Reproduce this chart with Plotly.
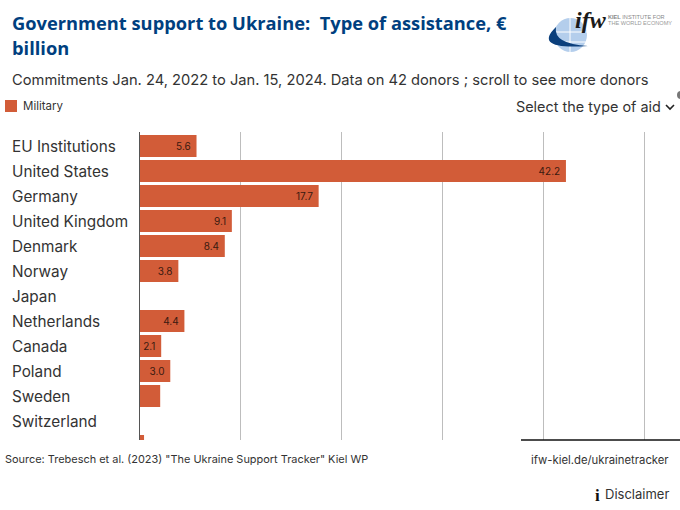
import plotly.graph_objects as go

# donors in tracker order, the 13th row is cut off by the bottom of the plot
donors = ['EU Institutions', 'United States', 'Germany', 'United Kingdom', 'Denmark', 'Norway', 'Japan',
          'Netherlands', 'Canada', 'Poland', 'Sweden', 'Switzerland', ' ']
military = [5.6, 42.2, 17.7, 9.1, 8.4, 3.8, 0, 4.4, 2.1, 3.0, 2.0, 0, 0.4]
bar_labels = ['5.6', '42.2', '17.7', '9.1', '8.4', '3.8', '', '4.4', '2.1', '3.0', '', '', '']
grid_ticks = [0, 10, 20, 30, 40, 50]

W, H = 680, 510
L, T, B = 140, 132, 70
FONT = 'Inter'
TXT = '#333333'
PAD = 2  # annotations sit about 2px inside their anchor


def px(x):
    return (x - L) / (W - L)


def py(y):
    return (H - B - y) / (H - B - T)


fig = go.Figure()
fig.add_trace(go.Bar(y=donors, x=military, orientation='h', width=0.88, name='Military',
                     marker=dict(color='#D25C38', line=dict(width=0)),
                     text=bar_labels, texttemplate='%{text}\u00a0', textposition='inside', insidetextanchor='end',
                     textangle=0, constraintext='none',
                     textfont=dict(family=FONT, size=10, color='#3a1a10'),
                     hoverinfo='x+y'))

anns = []


def txt(x, y, s, size, color=TXT, anchor='left', family=FONT):
    x = x - PAD if anchor == 'left' else x + PAD if anchor == 'right' else x
    anns.append(dict(text=s, x=px(x), y=py(y), xref='paper', yref='paper', xanchor=anchor, yanchor='middle',
                     showarrow=False, align=anchor, font=dict(family=family, size=size, color=color)))


# donor names are left aligned so they can't be normal tick labels
for d in donors:
    anns.append(dict(text=d, x=px(12 - PAD), y=d, xref='paper', yref='y', xanchor='left', yanchor='middle',
                     showarrow=False, font=dict(family=FONT, size=15.3, color=TXT)))

txt(12, 22.5, '<b>Government support to Ukraine:  Type of assistance, €</b>', 18.3, '#003F7F', family='Open Sans')
txt(12, 47.5, '<b>billion</b>', 18.3, '#003F7F', family='Open Sans')
txt(12, 80, 'Commitments Jan. 24, 2022 to Jan. 15, 2024. Data on 42 donors ; scroll to see more donors', 14.7)
txt(23, 106, 'Military', 11.5)
txt(516, 107, 'Select the type of aid', 14.4)
txt(5, 459, 'Source: Trebesch et al. (2023) "The Ukraine Support Tracker" Kiel WP', 10.95)
txt(669, 460, 'ifw-kiel.de/ukrainetracker', 11.3, anchor='right')
txt(669, 494, 'Disclaimer', 13, anchor='right')
txt(597, 495, '<b>i</b>', 17, '#111111', anchor='center', family='Liberation Serif')
# logo text
txt(575, 20, '<b><i>ifw</i></b>', 24, '#1a1a1a', family='Liberation Serif')
txt(608, 17, '<b>KIEL</b> INSTITUTE FOR', 5.6, '#888888', family='Liberation Sans')
txt(608, 23, 'THE WORLD ECONOMY', 5.6, '#999999', family='Liberation Sans')


def globe_line(x0, y0, x1, y1):
    return dict(type='line', xref='paper', yref='paper', x0=px(x0), x1=px(x1), y0=py(y0), y1=py(y1),
                line=dict(color='white', width=1))


shapes = [
    dict(type='rect', xref='paper', yref='paper', x0=px(5), x1=px(17), y0=py(112), y1=py(100),
         fillcolor='#D25C38', line_width=0),
    # bottom rule under the right part of the plot
    dict(type='line', xref='paper', yref='paper', x0=px(521), x1=px(680), y0=py(440), y1=py(440),
         line=dict(color='#111111', width=1.5)),
    # little grey dot on the right edge
    dict(type='circle', xref='paper', yref='paper', x0=px(677), x1=px(685), y0=py(99), y1=py(91),
         fillcolor='#777777', line_width=0),
    # logo globe
    dict(type='circle', xref='paper', yref='paper', x0=px(554), x1=px(587), y0=py(52), y1=py(18),
         fillcolor='#B4CEEC', line_width=0),
    globe_line(554, 32, 587, 32),
    globe_line(556, 42, 586, 42),
    globe_line(570, 18, 570, 52),
    # chevron of the dropdown
    dict(type='path', xref='paper', yref='paper',
         path='M %f,%f L %f,%f L %f,%f' % (px(666), py(105), px(670), py(109), px(674), py(105)),
         line=dict(color='#222222', width=1.6)),
    # logo swoosh
    dict(type='path', xref='paper', yref='paper',
         path='M %f,%f Q %f,%f %f,%f Q %f,%f %f,%f Z' % (px(556), py(27), px(532), py(50), px(588), py(46),
                                                          px(553), py(44), px(556), py(27)),
         fillcolor='#0B3F7C', line_width=0),
]

fig.update_layout(
    width=W, height=H, margin=dict(l=L, r=0, t=T, b=B),
    paper_bgcolor='white', plot_bgcolor='white', showlegend=False,
    bargap=0.12, annotations=anns, shapes=shapes,
    xaxis=dict(range=[0, 53.5], tickvals=grid_ticks, showticklabels=False, ticks='',
               showgrid=True, gridcolor='#BDBDBD', gridwidth=1, zeroline=False),
    yaxis=dict(range=[11.76, -0.56], type='category', categoryorder='array', categoryarray=donors,
               showticklabels=False, ticks='', showgrid=False, zeroline=False,
               showline=True, linecolor='#555555', linewidth=1),
)

fig.write_html("out.html", config={'displayModeBar': False},
               post_script="document.body.style.margin='0';")
